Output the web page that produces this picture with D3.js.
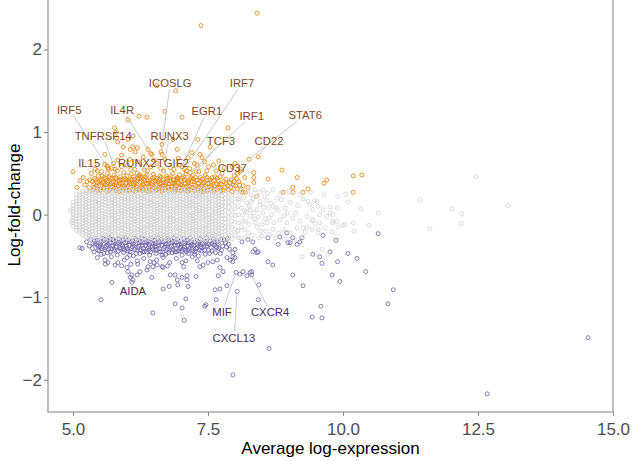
<!DOCTYPE html>
<html>
<head>
<meta charset="utf-8">
<script src="https://cdn.jsdelivr.net/npm/d3@7"></script>
<style>
  body { margin: 0; background: #fff; }
  text { font-family: "Liberation Sans", Arial, Helvetica, sans-serif; }
</style>
</head>
<body>
<svg id="chart" width="637" height="461"></svg>
<script>
// ---- Axis ticks ----
const xTicks = [5.0, 7.5, 10.0, 12.5, 15.0];
const yTicks = [-2, -1, 0, 1, 2];

// ---- Non-significant genes: dense core, listed per expression column ----
const grayCoreX = [5.00,5.06,5.12,5.18,5.24,5.30,5.36,5.42,5.48,5.54,5.60,5.66,5.72,5.78,5.84,5.90,5.96,6.02,6.08,6.14,6.20,6.26,6.32,6.38,6.44,6.50,6.56,6.62,6.68,6.74,6.80,6.86,6.92,6.98,7.04,7.10,7.16,7.22,7.28,7.34,7.40,7.46,7.52,7.58,7.64,7.70,7.76,7.82,7.88,7.94,8.00,8.06];
const grayCoreY = [
  [-0.14,-0.1,-0.07,-0.03,0.0,0.04,0.07,0.11,0.15],
  [-0.19,-0.15,-0.12,-0.08,-0.05,-0.01,0.02,0.06,0.09,0.13,0.16,0.2,0.24],
  [-0.22,-0.19,-0.15,-0.12,-0.08,-0.04,-0.01,0.03,0.06,0.1,0.13,0.17,0.2,0.24,0.27],
  [-0.25,-0.21,-0.18,-0.14,-0.11,-0.07,-0.04,0.0,0.03,0.07,0.1,0.14,0.18,0.21,0.25,0.28],
  [-0.27,-0.24,-0.2,-0.16,-0.13,-0.09,-0.06,-0.02,0.01,0.05,0.08,0.12,0.15,0.19,0.22,0.26,0.29],
  [-0.29,-0.25,-0.22,-0.18,-0.15,-0.11,-0.08,-0.04,-0.01,0.03,0.06,0.1,0.13,0.17,0.2,0.24,0.27,0.3],
  [-0.31,-0.27,-0.24,-0.2,-0.17,-0.13,-0.1,-0.06,-0.03,0.0,0.04,0.08,0.11,0.15,0.18,0.21,0.25,0.28,0.32],
  [-0.29,-0.26,-0.22,-0.19,-0.15,-0.12,-0.08,-0.05,-0.01,0.02,0.06,0.09,0.13,0.16,0.2,0.23,0.27,0.3],
  [-0.32,-0.28,-0.25,-0.21,-0.17,-0.14,-0.1,-0.07,-0.03,0.01,0.04,0.07,0.11,0.14,0.18,0.22,0.25,0.29,0.32],
  [-0.3,-0.26,-0.23,-0.19,-0.16,-0.12,-0.09,-0.05,-0.02,0.02,0.05,0.09,0.12,0.16,0.2,0.23,0.27,0.3],
  [-0.31,-0.28,-0.24,-0.21,-0.17,-0.14,-0.1,-0.06,-0.03,0.01,0.04,0.08,0.11,0.15,0.19,0.22,0.25,0.29,0.31],
  [-0.29,-0.25,-0.22,-0.18,-0.15,-0.12,-0.08,-0.04,-0.01,0.03,0.06,0.1,0.13,0.17,0.2,0.24,0.27,0.31],
  [-0.32,-0.27,-0.24,-0.2,-0.17,-0.13,-0.1,-0.06,-0.03,0.0,0.04,0.07,0.11,0.15,0.18,0.22,0.25,0.28,0.32],
  [-0.3,-0.26,-0.22,-0.19,-0.15,-0.12,-0.08,-0.05,-0.01,0.02,0.06,0.09,0.13,0.17,0.2,0.23,0.27,0.3],
  [-0.31,-0.28,-0.25,-0.21,-0.17,-0.14,-0.1,-0.07,-0.03,0.01,0.04,0.08,0.11,0.14,0.18,0.22,0.25,0.29,0.32],
  [-0.29,-0.26,-0.23,-0.19,-0.16,-0.12,-0.09,-0.05,-0.02,0.02,0.05,0.09,0.12,0.16,0.19,0.23,0.27,0.3],
  [-0.32,-0.28,-0.24,-0.21,-0.17,-0.13,-0.1,-0.06,-0.03,0.01,0.04,0.08,0.11,0.15,0.19,0.22,0.26,0.29,0.31],
  [-0.29,-0.25,-0.22,-0.18,-0.15,-0.11,-0.08,-0.04,-0.01,0.03,0.06,0.1,0.13,0.17,0.2,0.24,0.27,0.31],
  [-0.31,-0.27,-0.24,-0.2,-0.17,-0.13,-0.1,-0.06,-0.02,0.0,0.04,0.08,0.11,0.15,0.18,0.21,0.25,0.28,0.32],
  [-0.3,-0.26,-0.22,-0.19,-0.15,-0.12,-0.08,-0.05,-0.01,0.02,0.06,0.09,0.13,0.16,0.2,0.23,0.27,0.3],
  [-0.32,-0.28,-0.25,-0.21,-0.18,-0.14,-0.1,-0.07,-0.03,0.01,0.04,0.07,0.11,0.14,0.18,0.22,0.25,0.29,0.32],
  [-0.3,-0.26,-0.23,-0.19,-0.16,-0.12,-0.09,-0.05,-0.02,0.02,0.05,0.09,0.12,0.16,0.2,0.23,0.26,0.3],
  [-0.31,-0.28,-0.24,-0.21,-0.17,-0.14,-0.1,-0.06,-0.03,0.01,0.04,0.08,0.11,0.15,0.19,0.22,0.25,0.29,0.31],
  [-0.29,-0.25,-0.22,-0.18,-0.15,-0.12,-0.08,-0.04,-0.01,0.03,0.06,0.1,0.13,0.17,0.2,0.24,0.27,0.31],
  [-0.31,-0.27,-0.24,-0.2,-0.17,-0.13,-0.1,-0.06,-0.03,0.0,0.04,0.08,0.11,0.15,0.18,0.21,0.25,0.28,0.32],
  [-0.29,-0.26,-0.22,-0.19,-0.15,-0.12,-0.08,-0.05,-0.01,0.02,0.06,0.09,0.13,0.16,0.2,0.23,0.27,0.3],
  [-0.32,-0.28,-0.25,-0.21,-0.17,-0.14,-0.1,-0.07,-0.03,0.01,0.04,0.07,0.11,0.14,0.18,0.22,0.25,0.29,0.32],
  [-0.3,-0.26,-0.23,-0.19,-0.16,-0.12,-0.09,-0.05,-0.02,0.02,0.05,0.09,0.12,0.16,0.2,0.23,0.27,0.3],
  [-0.31,-0.28,-0.24,-0.21,-0.17,-0.14,-0.1,-0.06,-0.03,0.01,0.04,0.08,0.11,0.15,0.19,0.22,0.25,0.29,0.31],
  [-0.29,-0.25,-0.22,-0.18,-0.15,-0.12,-0.08,-0.04,-0.01,0.03,0.06,0.1,0.13,0.17,0.2,0.24,0.27,0.31],
  [-0.32,-0.27,-0.24,-0.2,-0.17,-0.13,-0.1,-0.06,-0.03,0.0,0.04,0.07,0.11,0.15,0.18,0.22,0.25,0.28,0.32],
  [-0.3,-0.26,-0.22,-0.19,-0.15,-0.12,-0.08,-0.05,-0.01,0.02,0.06,0.09,0.13,0.17,0.2,0.23,0.27,0.3],
  [-0.31,-0.28,-0.25,-0.21,-0.17,-0.14,-0.1,-0.07,-0.03,0.01,0.04,0.08,0.11,0.14,0.18,0.22,0.25,0.29,0.32],
  [-0.29,-0.26,-0.23,-0.19,-0.16,-0.12,-0.09,-0.05,-0.02,0.02,0.05,0.09,0.12,0.16,0.19,0.23,0.27,0.3],
  [-0.32,-0.28,-0.24,-0.21,-0.17,-0.13,-0.1,-0.06,-0.03,0.01,0.04,0.08,0.11,0.15,0.19,0.22,0.26,0.29,0.31],
  [-0.29,-0.25,-0.22,-0.18,-0.15,-0.11,-0.08,-0.04,-0.01,0.03,0.06,0.1,0.13,0.17,0.2,0.24,0.27,0.31],
  [-0.31,-0.27,-0.24,-0.2,-0.17,-0.13,-0.1,-0.06,-0.02,0.0,0.04,0.08,0.11,0.15,0.18,0.21,0.25,0.28,0.32],
  [-0.3,-0.26,-0.22,-0.19,-0.15,-0.12,-0.08,-0.05,-0.01,0.02,0.06,0.09,0.13,0.16,0.2,0.23,0.27,0.3],
  [-0.32,-0.28,-0.25,-0.21,-0.18,-0.14,-0.1,-0.07,-0.03,0.01,0.04,0.07,0.11,0.14,0.18,0.22,0.25,0.29,0.32],
  [-0.3,-0.26,-0.23,-0.19,-0.16,-0.12,-0.09,-0.05,-0.02,0.02,0.05,0.09,0.12,0.16,0.2,0.23,0.26,0.3],
  [-0.31,-0.28,-0.24,-0.21,-0.17,-0.14,-0.1,-0.06,-0.03,0.01,0.04,0.08,0.11,0.15,0.19,0.22,0.25,0.29,0.31],
  [-0.29,-0.25,-0.22,-0.18,-0.15,-0.12,-0.08,-0.04,-0.01,0.03,0.06,0.1,0.13,0.17,0.2,0.24,0.27,0.31],
  [-0.31,-0.27,-0.24,-0.2,-0.17,-0.13,-0.1,-0.06,-0.03,0.0,0.04,0.08,0.11,0.15,0.18,0.21,0.25,0.28,0.31],
  [-0.29,-0.26,-0.22,-0.19,-0.15,-0.12,-0.08,-0.05,-0.01,0.02,0.06,0.09,0.13,0.16,0.2,0.23,0.27,0.3],
  [-0.31,-0.28,-0.25,-0.21,-0.17,-0.14,-0.1,-0.07,-0.03,0.01,0.04,0.07,0.11,0.14,0.18,0.22,0.25,0.29],
  [-0.3,-0.26,-0.23,-0.19,-0.16,-0.12,-0.09,-0.05,-0.02,0.02,0.05,0.09,0.12,0.16,0.2,0.23,0.27,0.3],
  [-0.29,-0.25,-0.21,-0.17,-0.13,-0.09,-0.05,-0.01,0.03,0.07,0.11,0.15,0.19,0.23,0.27],
  [-0.3,-0.25,-0.2,-0.15,-0.1,-0.05,0.0,0.05,0.1,0.15,0.2,0.25,0.29],
  [-0.27,-0.21,-0.15,-0.09,-0.03,0.03,0.09,0.15,0.21,0.27],
  [-0.29,-0.22,-0.15,-0.08,-0.01,0.06,0.13,0.2,0.27],
  [-0.25,-0.17,-0.09,-0.01,0.07,0.15,0.23],
  [-0.28,-0.19,-0.1,0.0,0.1,0.19,0.28]
];

// ---- Non-significant genes: sparse high-expression tail ----
const grayTail = [
  [4.95,0.05],[4.97,-0.08],
  [8.12,0.08],[8.14,-0.01],[8.16,0.2],[8.18,-0.18],[8.21,0.03],[8.23,0.28],[8.26,-0.12],[8.3,0.16],[8.32,-0.25],[8.35,0.02],
  [8.38,-0.1],[8.4,0.22],[8.43,-0.03],[8.47,0.16],[8.5,-0.12],[8.53,0.09],[8.57,-0.2],[8.6,0.26],[8.63,-0.04],[8.67,0.14],
  [8.72,-0.1],[8.76,0.08],[8.8,-0.22],[8.86,0.18],[8.9,-0.02],[8.1,-0.28],[8.2,-0.08],[8.28,0.06],[8.45,-0.28],[8.52,0.3],
  [8.09,0.18],[8.22,0.14],[8.33,0.19],[8.46,0.12],[8.59,0.17],[8.71,0.1],[8.41,0.06],[8.52,0.02],[8.68,0.0],[8.8,0.05],
  [8.93,0.08],[9.02,0.15],[9.16,0.11],[9.26,0.19],[9.39,0.12],[9.52,0.16],[9.63,0.06],[9.76,0.09],[8.83,-0.06],[8.96,-0.1],
  [9.07,-0.04],[9.2,-0.08],[9.33,-0.02],[9.44,-0.06],[9.57,-0.1],[9.7,-0.02],[9.81,-0.08],[8.89,-0.18],[9.02,-0.22],[9.15,-0.16],
  [9.3,-0.21],[9.43,-0.18],[9.54,-0.22],[9.67,-0.16],[9.8,-0.21],[9.91,-0.15],[8.28,-0.02],[8.15,-0.08],[8.41,-0.15],[8.59,-0.1],
  [8.7,-0.18],[8.65,-0.24],[9.35,0.16],[9.48,0.17],[9.54,0.1],[9.44,0.06],[9.57,0.0],[9.43,-0.07],[9.48,-0.11],[9.33,-0.15],
  [9.26,-0.16],[9.54,-0.18],[9.76,0.02],[9.81,0.0],[9.81,-0.1],[8.05,-0.2],[8.1,0.25],[8.18,0.05],[8.25,-0.22],[8.3,0.24],
  [8.36,-0.05],[8.45,0.27],[8.5,-0.26],[8.55,0.22],[8.62,0.08],[8.75,-0.28],[8.78,0.2],[8.85,0.26],[8.92,-0.3],[9.0,0.28],
  [9.1,-0.3],[9.2,0.24],[9.12,0.02],[8.97,0.02],[8.55,-0.05],[8.48,-0.2],[8.27,0.1],[8.12,-0.15],[8.2,-0.28],[8.37,0.3],
  [9.65,0.24],[9.9,0.22],[10.1,0.15],[10.2,-0.2],[10.05,0.25],[9.4,0.27],[9.25,-0.27],[8.7,0.3],
  [9.89,0.08],[9.89,-0.08],[10.0,-0.13],[10.03,-0.12],[10.19,-0.1],[10.33,0.07],[10.48,-0.13],[10.65,0.02],
  [9.61,-0.42],[9.72,-0.48],[9.24,-0.51],
  [11.43,0.18],[11.61,-0.17],[12.02,0.07],[12.2,0.01],[12.19,-0.11],[12.46,0.46],[13.06,0.11]
];

// ---- Up-regulated genes ----
const upGenes = [
  [5.0,0.52],[5.07,0.33],[5.13,0.41],[5.19,0.45],[5.22,0.36],[5.26,0.4],[5.31,0.42],[5.3,0.33],[5.34,0.5],
  [5.37,0.3],[5.38,0.37],[5.4,0.44],[5.41,0.55],[5.44,0.32],[5.45,0.39],[5.47,0.47],
  [5.5,0.29],[5.51,0.35],[5.52,0.42],[5.53,0.52],[5.56,0.31],[5.57,0.38],[5.58,0.45],[5.59,0.61],
  [5.62,0.28],[5.63,0.34],[5.63,0.41],[5.64,0.5],[5.68,0.3],[5.69,0.37],[5.7,0.44],[5.71,0.56],
  [5.74,0.33],[5.75,0.4],[5.76,0.48],[5.8,0.29],[5.8,0.36],[5.81,0.43],[5.82,0.53],[5.83,0.66],
  [5.86,0.31],[5.87,0.38],[5.88,0.46],[5.92,0.28],[5.92,0.35],[5.93,0.42],[5.94,0.51],
  [5.98,0.32],[5.99,0.39],[6.0,0.47],[6.01,0.6],[6.04,0.29],[6.05,0.36],[6.06,0.43],[6.07,0.55],
  [6.1,0.31],[6.11,0.38],[6.12,0.46],[6.16,0.28],[6.17,0.34],[6.18,0.41],[6.19,0.5],[6.2,0.64],
  [6.23,0.32],[6.24,0.39],[6.25,0.45],[6.29,0.29],[6.3,0.36],[6.31,0.43],[6.32,0.54],
  [6.35,0.31],[6.36,0.38],[6.37,0.48],[6.41,0.28],[6.42,0.35],[6.43,0.42],[6.44,0.58],
  [6.47,0.32],[6.48,0.4],[6.49,0.49],[6.53,0.29],[6.54,0.36],[6.55,0.44],[6.56,0.62],
  [6.59,0.31],[6.6,0.38],[6.61,0.47],[6.65,0.28],[6.66,0.35],[6.67,0.42],[6.68,0.53],
  [6.71,0.32],[6.72,0.39],[6.73,0.47],[6.77,0.29],[6.78,0.37],[6.79,0.44],[6.8,0.57],
  [6.83,0.31],[6.84,0.38],[6.85,0.5],[6.89,0.28],[6.9,0.35],[6.91,0.43],
  [6.95,0.32],[6.96,0.39],[6.97,0.48],[6.98,0.6],[7.01,0.29],[7.02,0.36],[7.03,0.44],
  [7.07,0.31],[7.08,0.38],[7.09,0.49],[7.13,0.28],[7.14,0.35],[7.15,0.42],[7.16,0.56],
  [7.19,0.32],[7.2,0.4],[7.21,0.47],[7.25,0.29],[7.26,0.36],[7.27,0.45],
  [7.31,0.31],[7.32,0.38],[7.33,0.52],[7.37,0.28],[7.38,0.35],[7.39,0.43],
  [7.43,0.32],[7.44,0.39],[7.45,0.48],[7.49,0.29],[7.5,0.37],[7.51,0.58],
  [7.55,0.31],[7.56,0.4],[7.61,0.28],[7.62,0.35],[7.63,0.46],[7.68,0.32],[7.69,0.41],
  [7.74,0.29],[7.75,0.37],[7.76,0.5],[7.81,0.33],[7.83,0.43],[7.88,0.3],[7.9,0.39],
  [7.95,0.28],[7.97,0.36],[7.99,0.47],[8.04,0.31],[8.07,0.4],[8.13,0.27],[8.19,0.27],[8.15,0.35],
  [5.36,0.4],[5.43,0.35],[5.46,0.29],[5.49,0.41],[5.54,0.47],[5.6,0.36],[5.66,0.32],[5.67,0.46],
  [5.72,0.39],[5.78,0.34],[5.79,0.45],[5.85,0.41],[5.9,0.33],[5.96,0.44],[5.97,0.29],[6.02,0.34],
  [6.03,0.41],[6.08,0.49],[6.13,0.36],[6.14,0.43],[6.21,0.3],[6.22,0.47],[6.27,0.4],[6.33,0.34],
  [6.34,0.46],[6.39,0.41],[6.45,0.37],[6.46,0.3],[6.51,0.45],[6.57,0.4],[6.58,0.33],[6.63,0.45],
  [6.64,0.38],[6.69,0.3],[6.75,0.41],[6.76,0.34],[6.81,0.46],[6.87,0.38],[6.88,0.31],[6.93,0.42],
  [6.99,0.36],[7.0,0.29],[7.05,0.46],[7.11,0.34],[7.12,0.41],[7.17,0.3],[7.23,0.43],[7.29,0.34],
  [7.35,0.41],[7.41,0.3],[7.47,0.42],[7.53,0.34],[7.58,0.45],[7.66,0.37],[7.72,0.33],[7.79,0.4],
  [7.86,0.35],[7.93,0.42],[8.01,0.35],[8.1,0.3],
  [5.39,0.33],[5.42,0.42],[5.48,0.36],[5.51,0.3],[5.55,0.4],[5.58,0.33],[5.61,0.44],[5.65,0.39],
  [5.67,0.29],[5.71,0.34],[5.73,0.44],[5.77,0.31],[5.79,0.39],[5.84,0.35],[5.85,0.28],[5.89,0.43],
  [5.91,0.38],[5.95,0.34],[5.98,0.42],[6.01,0.3],[6.04,0.39],[6.07,0.33],[6.09,0.42],[6.12,0.29],
  [6.15,0.39],[6.19,0.33],[6.2,0.44],[6.24,0.3],[6.27,0.34],[6.28,0.46],[6.31,0.31],[6.33,0.41],
  [6.38,0.29],[6.4,0.38],[6.44,0.33],[6.47,0.44],[6.5,0.34],[6.52,0.41],[6.56,0.3],[6.59,0.42],
  [6.62,0.33],[6.64,0.29],[6.68,0.39],[6.7,0.35],[6.74,0.44],[6.77,0.33],[6.8,0.41],[6.82,0.34],
  [6.86,0.42],[6.89,0.37],[6.92,0.3],[6.94,0.44],[6.97,0.33],[7.0,0.41],[7.04,0.34],[7.06,0.42],
  [7.1,0.29],[7.13,0.39],[7.16,0.34],[7.18,0.45],[7.22,0.33],[7.24,0.4],[7.28,0.29],[7.3,0.42],
  [7.34,0.34],[7.36,0.45],[7.4,0.38],[7.42,0.28],[7.46,0.35],[7.48,0.45],[7.52,0.3],[7.54,0.42],
  [7.57,0.35],[7.6,0.41],[7.64,0.3],[7.67,0.44],[7.71,0.37],[7.73,0.46],[7.78,0.3],[7.84,0.38],
  [7.92,0.33],[7.98,0.4],[8.03,0.44],[8.09,0.36],
  [5.45,0.53],[5.66,0.55],[5.9,0.58],[6.14,0.55],[6.38,0.53],[6.62,0.56],[6.87,0.55],[7.1,0.53],
  [7.3,0.6],[7.48,0.53],[7.65,0.53],[5.75,0.62],[6.05,0.67],[6.5,0.66],[6.95,0.68],[7.2,0.75],
  [7.8,0.57],[8.18,0.45],[8.05,0.5],
  [8.24,0.33],[8.35,0.51],[8.35,0.45],[8.35,0.39],[8.4,0.22],[8.61,0.43],[8.87,0.54],[8.89,0.27],
  [9.07,0.33],[9.07,0.27],[9.15,0.45],[9.26,0.27],[9.35,0.31],[9.65,0.38],[9.7,0.42],
  [10.19,0.47],[10.35,0.48],[10.19,0.27],
  [5.59,0.73],[5.77,1.05],[5.8,1.0],[6.02,1.15],[6.22,1.19],[6.37,1.18],[6.7,1.25],[7.02,1.18],
  [6.55,1.56],[6.9,1.5],[7.31,0.91],[7.54,0.82],[7.87,1.05],[6.93,0.79],[7.37,2.29],[8.41,2.44],
  [6.11,0.82],[6.19,0.81],[6.06,0.79],[5.83,0.88],[5.93,0.82],[5.81,0.93],[6.02,0.91],[6.11,0.95],
  [6.15,0.76],[6.39,0.79],[6.46,0.73],[6.65,0.85],[6.65,0.73],[6.85,0.91],[7.35,0.73],[7.39,0.69],
  [7.44,0.64],[7.13,0.69],[5.9,0.72],[6.3,0.7],[7.25,0.62],[7.6,0.6],[7.7,0.65],[7.95,0.58],
  [8.1,0.55],[8.0,0.62]
];

// ---- Down-regulated genes ----
const downGenes = [
  [5.13,-0.4],[5.25,-0.33],[5.3,-0.38],[5.33,-0.3],[5.39,-0.45],[5.37,-0.35],
  [5.42,-0.29],[5.44,-0.37],[5.46,-0.43],[5.49,-0.32],[5.5,-0.39],[5.52,-0.48],
  [5.55,-0.29],[5.56,-0.35],[5.58,-0.42],[5.59,-0.55],[5.61,-0.31],[5.62,-0.38],[5.64,-0.46],
  [5.67,-0.28],[5.68,-0.34],[5.7,-0.41],[5.71,-0.51],[5.73,-0.3],[5.74,-0.37],[5.76,-0.44],
  [5.79,-0.32],[5.8,-0.39],[5.82,-0.49],[5.83,-0.58],[5.85,-0.29],[5.86,-0.35],[5.88,-0.42],
  [5.91,-0.31],[5.92,-0.38],[5.94,-0.46],[5.95,-0.55],[5.97,-0.28],[5.98,-0.34],[6.0,-0.41],[6.0,-0.52],
  [6.03,-0.3],[6.04,-0.37],[6.06,-0.45],[6.07,-0.6],[6.09,-0.32],[6.1,-0.39],[6.12,-0.5],
  [6.15,-0.29],[6.16,-0.35],[6.18,-0.43],[6.19,-0.56],[6.21,-0.31],[6.22,-0.38],[6.24,-0.47],
  [6.27,-0.28],[6.28,-0.34],[6.3,-0.41],[6.31,-0.53],[6.33,-0.3],[6.34,-0.37],[6.36,-0.45],
  [6.39,-0.32],[6.4,-0.39],[6.42,-0.49],[6.43,-0.57],[6.45,-0.29],[6.46,-0.35],[6.48,-0.42],
  [6.51,-0.31],[6.52,-0.38],[6.54,-0.47],[6.55,-0.55],[6.57,-0.28],[6.58,-0.34],[6.6,-0.41],
  [6.63,-0.3],[6.64,-0.37],[6.66,-0.45],[6.67,-0.52],[6.69,-0.32],[6.7,-0.39],[6.72,-0.48],
  [6.75,-0.29],[6.76,-0.35],[6.78,-0.43],[6.79,-0.58],[6.81,-0.31],[6.82,-0.38],[6.84,-0.46],
  [6.87,-0.28],[6.88,-0.34],[6.9,-0.41],[6.91,-0.53],[6.93,-0.3],[6.94,-0.37],[6.96,-0.44],
  [6.99,-0.32],[7.0,-0.39],[7.02,-0.49],[7.05,-0.29],[7.06,-0.35],[7.08,-0.43],[7.09,-0.56],
  [7.11,-0.31],[7.12,-0.38],[7.14,-0.47],[7.17,-0.28],[7.18,-0.34],[7.2,-0.42],[7.21,-0.51],
  [7.23,-0.3],[7.24,-0.37],[7.26,-0.45],[7.29,-0.32],[7.3,-0.4],[7.32,-0.5],
  [7.35,-0.29],[7.36,-0.36],[7.38,-0.44],[7.41,-0.31],[7.43,-0.39],[7.45,-0.48],
  [7.47,-0.28],[7.49,-0.35],[7.51,-0.43],[7.54,-0.32],[7.56,-0.4],[7.6,-0.29],[7.62,-0.37],[7.64,-0.46],
  [7.67,-0.33],[7.7,-0.41],[7.74,-0.3],[7.77,-0.38],[7.82,-0.34],[7.86,-0.29],[7.9,-0.42],
  [5.4,-0.32],[5.47,-0.38],[5.53,-0.33],[5.57,-0.47],[5.65,-0.36],[5.69,-0.45],[5.77,-0.34],[5.84,-0.44],
  [5.89,-0.33],[5.93,-0.41],[6.01,-0.33],[6.05,-0.49],[6.13,-0.36],[6.17,-0.47],[6.25,-0.33],[6.29,-0.45],
  [6.37,-0.34],[6.41,-0.43],[6.49,-0.36],[6.53,-0.43],[6.61,-0.33],[6.65,-0.49],[6.73,-0.36],[6.77,-0.46],
  [6.85,-0.33],[6.89,-0.45],[6.97,-0.36],[7.01,-0.44],[7.09,-0.33],[7.13,-0.43],[7.21,-0.36],[7.25,-0.48],
  [7.33,-0.34],[7.39,-0.4],[7.45,-0.33],[7.53,-0.47],[7.58,-0.35],[7.66,-0.4],[7.73,-0.47],[7.8,-0.31],
  [7.88,-0.36],[5.6,-0.6],[5.9,-0.62],[6.2,-0.6],[6.5,-0.58],[6.75,-0.62],[7.05,-0.63],[7.3,-0.56],
  [5.45,-0.52],[5.65,-0.58],
  [5.36,-0.41],[5.41,-0.35],[5.45,-0.31],[5.48,-0.44],[5.51,-0.36],[5.54,-0.41],[5.58,-0.3],[5.6,-0.4],
  [5.63,-0.33],[5.66,-0.42],[5.69,-0.3],[5.72,-0.38],[5.75,-0.31],[5.78,-0.42],[5.81,-0.35],[5.84,-0.3],
  [5.87,-0.4],[5.9,-0.36],[5.93,-0.3],[5.96,-0.43],[5.99,-0.38],[6.02,-0.44],[6.05,-0.33],[6.08,-0.41],
  [6.11,-0.35],[6.14,-0.42],[6.17,-0.31],[6.2,-0.4],[6.23,-0.34],[6.26,-0.43],[6.29,-0.37],[6.32,-0.45],
  [6.35,-0.33],[6.38,-0.41],[6.41,-0.36],[6.44,-0.45],[6.47,-0.39],[6.5,-0.31],[6.53,-0.35],[6.56,-0.42],
  [6.59,-0.37],[6.62,-0.45],[6.65,-0.33],[6.68,-0.41],[6.71,-0.35],[6.74,-0.42],[6.77,-0.31],[6.8,-0.4],
  [6.83,-0.34],[6.86,-0.43],[6.89,-0.37],[6.92,-0.45],[6.95,-0.33],[6.98,-0.41],[7.01,-0.36],[7.04,-0.42],
  [7.07,-0.39],[7.1,-0.45],[7.13,-0.34],[7.16,-0.41],[7.19,-0.37],[7.22,-0.44],[7.25,-0.33],[7.28,-0.41],
  [7.31,-0.36],[7.34,-0.43],[7.37,-0.39],[7.4,-0.35],[7.44,-0.43],[7.48,-0.38],[7.52,-0.36],[7.57,-0.44],
  [7.61,-0.33],[7.65,-0.39],[7.69,-0.35],[7.75,-0.43],[7.84,-0.39],
  [5.72,-0.82],[5.78,-0.61],[5.52,-1.03],[6.0,-0.64],[6.02,-0.69],[6.09,-0.73],[6.06,-0.76],[6.09,-0.82],
  [6.19,-0.73],[6.24,-0.69],[6.37,-0.67],[6.39,-0.63],[6.48,-0.63],[6.46,-0.76],[6.56,-0.61],[6.65,-0.63],
  [6.67,-0.64],[6.8,-0.73],[6.89,-0.73],[6.93,-0.79],[6.94,-0.85],[7.02,-0.76],[7.11,-0.74],[7.11,-0.79],
  [7.13,-0.87],[7.28,-0.75],[7.02,-0.58],[7.35,-0.63],[7.41,-0.61],[7.5,-0.58],[7.59,-0.57],[7.67,-0.55],
  [7.72,-0.64],[7.78,-0.69],[7.69,-0.74],[7.85,-0.52],[7.91,-0.55],[7.96,-0.57],[8.0,-0.42],[7.96,-0.46],
  [8.13,-0.33],[8.24,-0.3],[8.33,-0.33],[8.33,-0.45],[8.41,-0.46],[8.61,-0.57],[8.7,-0.61],[8.61,-0.28],
  [8.83,-0.27],[8.96,-0.22],[9.07,-0.28],[8.8,-0.36],[8.98,-0.34],[9.2,-0.33],[9.24,-0.28],[9.07,-0.73],
  [9.26,-0.86],[9.44,-0.48],[9.57,-0.51],[9.61,-0.59],[9.87,-0.31],[9.63,-0.25],[9.76,-0.45],[9.9,-0.57],
  [10.09,-0.47],[10.26,-0.53],[10.42,-0.69],[10.65,-0.23],[9.8,-0.73],[9.94,-0.81],[10.93,-0.91],[10.83,-1.08],
  [9.59,-1.11],[9.43,-1.24],[9.61,-1.25],[14.54,-1.49],[12.67,-2.17],[6.48,-1.19],[6.67,-0.9],[6.78,-0.87],
  [6.89,-1.08],[7.02,-1.13],[7.09,-1.02],[7.06,-1.28],[7.44,-1.11],[7.46,-1.09],[7.65,-1.03],[7.63,-0.91],
  [7.72,-0.9],[7.85,-0.86],[8.43,-1.03],[8.44,-0.85],[8.63,-1.62],[7.96,-1.94],[8.09,-0.72],[8.15,-0.69],
  [8.22,-0.74],[8.31,-0.69],[8.31,-0.73],[7.96,-0.51],[8.0,-0.52],[8.37,-0.42],[8.43,-0.45],[9.15,-0.36],
  [9.02,-0.34],[5.17,-0.41]
];

// ---- Labelled genes: expression, fold-change, direction, and label anchor (data units) ----
const geneNames = ["ICOSLG","IRF7","IRF5","IL4R","EGR1","IRF1","STAT6","TNFRSF14","RUNX3","TCF3","CD22","IL15","RUNX2","TGIF2","CD37","AIDA","MIF","CXCR4","CXCL13"];
const geneAveExpr = [6.63,7.06,5.65,6.44,7.02,7.17,8.26,5.78,6.70,7.28,8.43,5.63,6.24,6.93,8.09,6.11,8.02,8.28,8.04];
const geneLogFC  = [0.76,0.55,0.57,0.74,0.58,0.51,0.67,0.55,0.67,0.52,0.70,0.59,0.48,0.45,0.52,-0.79,-0.70,-0.70,-0.93];
const geneDir    = ["up","up","up","up","up","up","up","up","up","up","up","up","up","up","up","down","down","down","down"];
const labelAtX   = [6.80,8.13,4.93,5.91,7.48,8.31,9.30,5.56,6.79,7.74,8.63,5.30,6.19,6.85,7.95,6.11,7.76,8.65,7.98];
const labelAtY   = [1.59,1.59,1.27,1.27,1.26,1.20,1.21,0.95,0.95,0.89,0.89,0.63,0.63,0.63,0.56,-0.93,-1.18,-1.18,-1.49];

// ---- Scales ----
const svg = d3.select("#chart");
const plotLeft = 48, plotRight = 613, plotTop = -5, plotBottom = 412;
const x = d3.scaleLinear().domain([4.537, 15]).range([plotLeft, plotRight]);
const y = d3.scaleLinear().domain([-2.39, 2.66]).range([plotBottom, plotTop]);

const colors = { ns: "#d3d3d3", up: "#E5870E", down: "#7467AE" };
const labelColors = { up: "#844818", down: "#4d2a63" };

svg.append("defs").append("clipPath").attr("id", "plotclip")
  .append("rect").attr("x", plotLeft).attr("y", plotTop)
  .attr("width", plotRight - plotLeft).attr("height", plotBottom - plotTop);

const pts = svg.append("g").attr("clip-path", "url(#plotclip)");

function rings(data, color) {
  pts.append("g").selectAll("circle").data(data).join("circle")
    .attr("cx", d => x(d[0])).attr("cy", d => y(d[1]))
    .attr("r", 2.0).attr("fill", "none")
    .attr("stroke", color).attr("stroke-width", 0.85);
}

const grayCore = [];
grayCoreX.forEach((cx, i) => grayCoreY[i].forEach(v => grayCore.push([cx, v])));

const labelled = geneNames.map((n, i) => ({
  name: n, ax: geneAveExpr[i], fc: geneLogFC[i], dir: geneDir[i], lx: labelAtX[i], ly: labelAtY[i]
}));

rings(upGenes.concat(labelled.filter(d => d.dir === "up").map(d => [d.ax, d.fc])), colors.up);
rings(downGenes.concat(labelled.filter(d => d.dir === "down").map(d => [d.ax, d.fc])), colors.down);
rings(grayCore.concat(grayTail), colors.ns);

// ---- Frame and axes ----
svg.append("rect").attr("x", plotLeft).attr("y", plotTop)
  .attr("width", plotRight - plotLeft).attr("height", plotBottom - plotTop)
  .attr("fill", "none").attr("stroke", "#8a8a8a").attr("stroke-width", 1.1);

const xAxis = svg.append("g").attr("transform", `translate(0,${plotBottom})`)
  .call(d3.axisBottom(x).tickValues(xTicks).tickFormat(d3.format(".1f")).tickSize(4).tickPadding(7));
const yAxis = svg.append("g").attr("transform", `translate(${plotLeft},0)`)
  .call(d3.axisLeft(y).tickValues(yTicks).tickFormat(d3.format("d")).tickSize(4).tickPadding(2));
[xAxis, yAxis].forEach(a => {
  a.select(".domain").remove();
  a.selectAll(".tick line").attr("stroke", "#8a8a8a").attr("stroke-width", 1.1);
  a.selectAll(".tick text").attr("fill", "#4d4d4d").style("font-size", "17px")
    .style("font-family", '"Liberation Sans", Arial, sans-serif');
});

svg.append("text").attr("x", (plotLeft + plotRight) / 2).attr("y", 454)
  .attr("text-anchor", "middle").attr("fill", "#000").style("font-size", "17px")
  .text("Average log-expression");
svg.append("text").attr("transform", "translate(20,205) rotate(-90)")
  .attr("text-anchor", "middle").attr("fill", "#000").style("font-size", "17px")
  .text("Log-fold-change");

// ---- Gene labels with leader segments ----
const segG = svg.append("g");
const labG = svg.append("g");
labelled.forEach(d => {
  const cx = x(d.lx), cy = y(d.ly);
  const t = labG.append("text").attr("x", cx).attr("y", cy)
    .attr("text-anchor", "middle").attr("dominant-baseline", "central")
    .attr("fill", labelColors[d.dir]).style("font-size", "11.3px").text(d.name);
  const hw = t.node().getComputedTextLength() / 2 + 1.5;
  const hh = 6;
  const px = x(d.ax), py = y(d.fc);
  const dx = px - cx, dy = py - cy;
  const len = Math.hypot(dx, dy);
  const sEdge = Math.min(dx !== 0 ? hw / Math.abs(dx) : Infinity, dy !== 0 ? hh / Math.abs(dy) : Infinity);
  if (sEdge >= 1) return;
  const x0 = cx + dx * sEdge, y0 = cy + dy * sEdge;
  const ux = dx / len, uy = dy / len;
  const x1 = px - ux * 2.5, y1 = py - uy * 2.5;
  if (Math.hypot(x1 - x0, y1 - y0) < 9) return;
  segG.append("line").attr("x1", x0).attr("y1", y0).attr("x2", x1).attr("y2", y1)
    .attr("stroke", "#a6a6a6").attr("stroke-width", 0.6);
});
</script>
</body>
</html>
